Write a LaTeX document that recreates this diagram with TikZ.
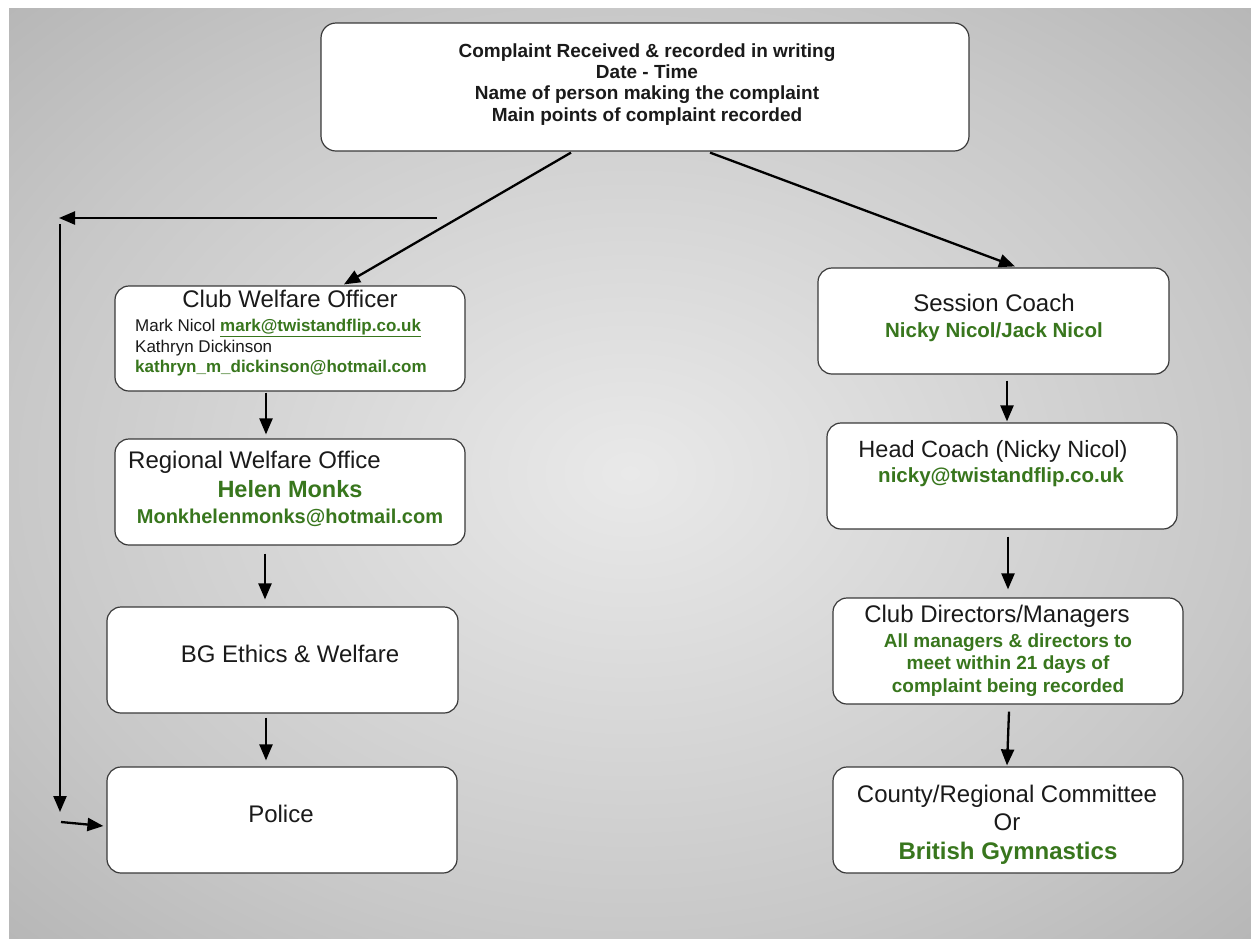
\documentclass[tikz,border=0pt]{standalone}
\usepackage{fontspec}
\setmainfont{Liberation Sans}
\usetikzlibrary{arrows.meta,calc}
\definecolor{bgc}{HTML}{E9E9E9}
\definecolor{bge}{HTML}{C8C8C8}
\definecolor{bgk}{HTML}{B6B6B6}
\definecolor{boxline}{HTML}{3A3A3A}
\definecolor{gr}{HTML}{38761D}
\definecolor{textc}{HTML}{1A1A1A}
\pgfdeclareradialshading{bgshade}{\pgfpoint{0bp}{0bp}}{color(0bp)=(bgc); color(25bp)=(bge); color(36bp)=(bgk); color(50bp)=(bgk)}
\newcommand{\fsz}[1]{\fontsize{#1}{#1}\selectfont}
\tikzset{
  box/.style={draw=boxline, fill=white, line width=1.2pt, rounded corners=14pt, inner sep=0pt, minimum width=350pt, minimum height=106pt},
  arr/.style={line width=2.3pt, draw=black, -{Triangle[length=16pt,width=13pt]}},
  txt/.style={inner sep=0pt, anchor=base, text=textc},
  ltxt/.style={inner sep=0pt, anchor=base west, text=textc},
  title/.style={txt, font=\fsz{24}},
  topline/.style={txt, font=\bfseries\fsz{19}},
  green/.style={txt, text=gr, font=\bfseries\fsz{#1}},
}
\begin{document}
\begin{tikzpicture}[x=1pt,y=-1pt]
\useasboundingbox (0,0) rectangle (1251,938);
\shade[shading=bgshade] (9,8) rectangle (1251,938);

% boxes
\node[box, minimum width=648pt, minimum height=128pt, rounded corners=15pt] (top) at (645,87) {};
\node[box, minimum height=105pt] (cwo) at (290,338.5) {};
\node[box] (rwo) at (290,492) {};
\node[box, minimum width=351pt] (bg) at (282.5,660) {};
\node[box] (police) at (282,820) {};
\node[box, minimum width=351pt] (sc) at (993.5,321) {};
\node[box] (hc) at (1002,476) {};
\node[box] (cd) at (1008,651) {};
\node[box] (county) at (1008,820) {};

% top text
\node[topline] (t1) at (647,57) {Complaint Received \& recorded in writing};
\node[topline] (t2) at (647,78) {Date - Time};
\node[topline] (t3) at (647,99.5) {Name of person making the complaint};
\node[topline] (t4) at (647,121) {Main points of complaint recorded};

% club welfare officer
\node[title] (cwo1) at (290,307) {Club Welfare Officer};
\node[ltxt, font=\fsz{17}] (cwo2) at (135,331) {Mark Nicol \textcolor{gr}{\bfseries\underline{mark@twistandflip.co.uk}}};
\node[ltxt, font=\fsz{17}] (cwo3) at (135,352) {Kathryn Dickinson};
\node[ltxt, text=gr, font=\bfseries\fsz{17}] (cwo4) at (135,372) {kathryn\_m\_dickinson@hotmail.com};

% regional welfare office
\node[ltxt, font=\fsz{24}] (rwo1) at (128,468) {Regional Welfare Office};
\node[green=23.5] (rwo2) at (290,497) {Helen Monks};
\node[green=20] (rwo3) at (290,523) {Monkhelenmonks@hotmail.com};

% BG and police
\node[title] (bg1) at (290,662) {BG Ethics \& Welfare};
\node[title] (pol1) at (281,822) {Police};

% session coach
\node[title] (sc1) at (994,311) {Session Coach};
\node[green=20.5] (sc2) at (994,337) {Nicky Nicol/Jack Nicol};

% head coach
\node[txt, font=\fsz{23.5}] (hc1) at (993,457) {Head Coach (Nicky Nicol)};
\node[green=20.5] (hc2) at (1001,482) {nicky@twistandflip.co.uk};

% club directors
\node[title] (cd1) at (997,622) {Club Directors/Managers};
\node[green=19] (cd2) at (1008,647) {All managers \& directors to};
\node[green=19] (cd3) at (1008,669.5) {meet within 21 days of};
\node[green=19] (cd4) at (1008,692) {complaint being recorded};

% county
\node[title] (co1) at (1007,802) {County/Regional Committee};
\node[title] (co2) at (1007,830) {Or};
\node[green=24] (co3) at (1008,859) {British Gymnastics};

% connectors
\draw[arr] ($(top.south)+(-74,1)$) -- ($(cwo.north)+(54,-1)$);
\draw[arr] ($(top.south)+(65,1)$) -- ($(sc.north)+(21.5,-1)$);
\draw[arr] ($(cwo.south)+(-24,1)$) -- ($(rwo.north)+(-24,-4)$);
\draw[arr] ($(rwo.south)+(-25,8)$) -- ($(bg.north)+(-17.5,-7)$);
\draw[arr] ($(bg.south)+(-16.5,4)$) -- ($(police.north)+(-16,-6)$);
\draw[arr] ($(sc.south)+(13.5,6)$) -- ($(hc.north)+(5,-1)$);
\draw[arr] ($(hc.south)+(6,7)$) -- ($(cd.north)+(0,-8)$);
\draw[arr] ($(cd.south)+(1,7)$) -- ($(county.north)+(-1,-1)$);

\coordinate (hs) at (437,218);
\coordinate (he) at (59,218);
\coordinate (vs) at (60,224);
\coordinate (ve) at (60,812);
\coordinate (ps) at (61,822);
\draw[arr] (hs) -- (he);
\draw[arr] (vs) -- (ve);
\draw[arr] (ps) -- ($(police.west)+(-3,6)$);
\end{tikzpicture}
\end{document}
